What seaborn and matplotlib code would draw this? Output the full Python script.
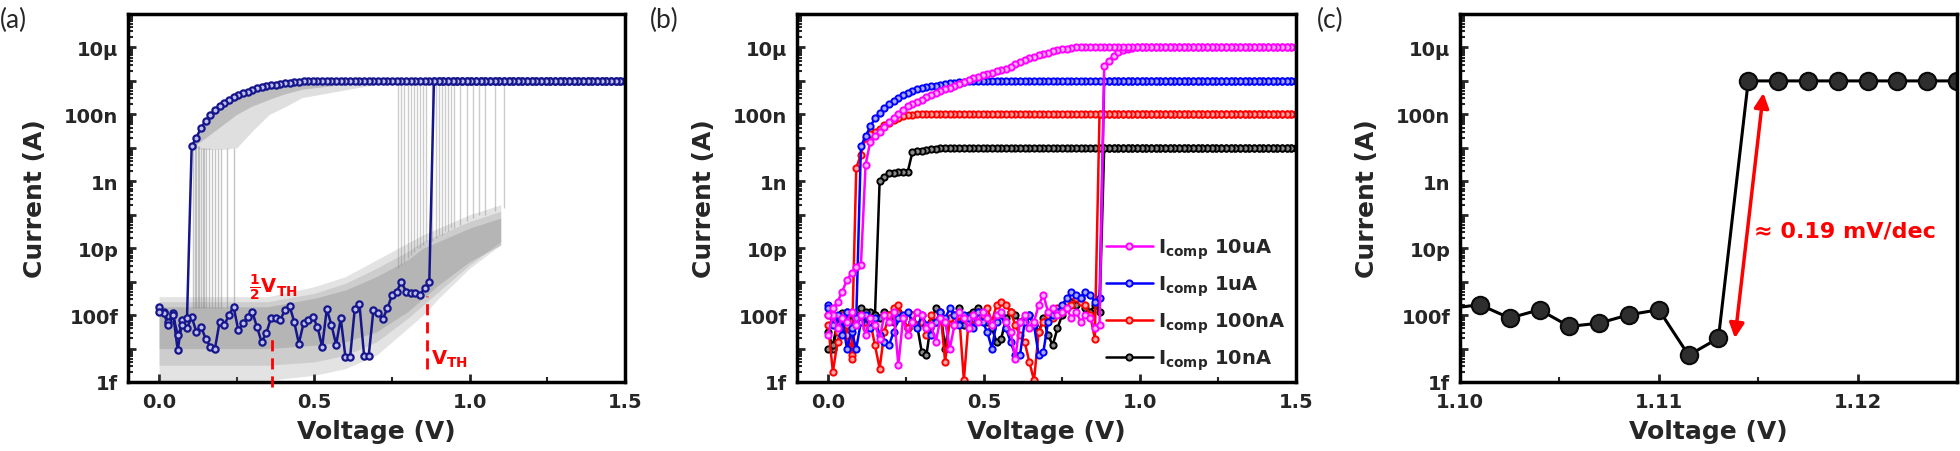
import numpy as np
import pandas as pd
import matplotlib
matplotlib.use('Agg')
import matplotlib.pyplot as plt
import seaborn as sns
from matplotlib.ticker import FixedLocator, FuncFormatter, LogLocator, MultipleLocator, FormatStrFormatter, NullFormatter

sns.set_style('ticks')
plt.rcParams['font.family'] = ['DejaVu Sans']
plt.rcParams['font.weight'] = 'bold'
plt.rcParams['axes.labelweight'] = 'bold'
plt.rcParams['mathtext.fontset'] = 'custom'
plt.rcParams['mathtext.rm'] = 'DejaVu Sans:bold'
plt.rcParams['mathtext.it'] = 'DejaVu Sans:bold'
plt.rcParams['mathtext.bf'] = 'DejaVu Sans:bold'
plt.rcParams['mathtext.default'] = 'rm'

# ---- data (currents kept as log10 values) ----
v_step = 0.015
v_grid = np.round(np.arange(0, 1.5 + v_step / 2, v_step), 3)   # sweep 0 -> 1.5 V

y_ticks = [1e-15, 1e-13, 1e-11, 1e-9, 1e-7, 1e-5]
y_labels = ['1f', '100f', '10p', '1n', '100n', '10μ']

# (a) highlighted cycle
a_on = -6.0
a_fwd_off = [-12.77, -12.92, -13.20, -12.95, -14.05, -13.15, -13.40, -13.05, -13.50, -13.35,
             -13.70, -13.95, -14.00, -13.20, -13.30, -13.00, -12.75, -13.45, -13.25, -13.05,
             -12.90, -13.35, -13.80, -13.55, -13.10, -13.10, -13.15, -12.85, -12.72, -13.20,
             -13.85, -13.25, -13.15, -13.05, -13.35, -13.95, -12.82, -13.30, -13.88, -13.10,
             -14.26, -14.26, -12.82, -12.67, -14.21, -14.21, -12.86, -12.95, -13.12, -12.80,
             -12.40, -12.30, -12.00, -12.30, -12.35, -12.35, -12.39, -12.20, -12.00]
a_bwd_curve = [-6.00, -6.01, -6.01, -6.02, -6.03, -6.05, -6.07, -6.09, -6.11, -6.13,
               -6.15, -6.19, -6.22, -6.26, -6.32, -6.37, -6.43, -6.49, -6.57, -6.65,
               -6.75, -6.87, -7.02, -7.20, -7.40, -7.70, -7.95,
               -13.10, -13.30, -13.60, -13.00, -13.30, -12.95, -12.90]

# (a) grey cloud of the other cycles: off-state band (outer -> inner layers)
band_v = [0.0, 0.2, 0.35, 0.5, 0.6, 0.7, 0.8, 0.85, 0.9, 1.0, 1.1]
band_lo = [-14.95, -14.95, -14.95, -14.8, -14.6, -14.2, -13.4, -13.0, -12.5, -11.6, -10.9]
band_hi = [-12.45, -12.45, -12.45, -12.15, -11.85, -11.35, -10.85, -10.6, -10.4, -10.0, -9.7]
mid_lo = [-14.5, -14.5, -14.5, -14.4, -14.2, -13.8, -13.1, -12.7, -12.3, -11.5, -10.8]
mid_hi = [-12.6, -12.6, -12.6, -12.35, -12.05, -11.6, -11.1, -10.8, -10.6, -10.2, -9.9]
core_lo = [-14.0, -14.0, -14.0, -13.9, -13.8, -13.5, -12.9, -12.5, -12.1, -11.4, -10.9]
core_hi = [-12.75, -12.75, -12.75, -12.5, -12.25, -11.85, -11.35, -11.0, -10.8, -10.4, -10.1]
# return branch band
ret_v = [0.105, 0.15, 0.2, 0.25, 0.3, 0.355, 0.4, 0.46, 0.55, 0.64, 0.75]
ret_lo = [-8.0, -8.05, -8.05, -8.0, -7.5, -7.0, -6.8, -6.5, -6.35, -6.2, -6.02]
ret_mid = [-8.0, -7.7, -7.35, -7.0, -6.75, -6.55, -6.4, -6.25, -6.15, -6.08, -6.01]
ret_hi = [-7.95, -7.2, -6.72, -6.45, -6.26, -6.13, -6.07, -6.02, -6.0, -6.0, -6.0]
# vertical set / reset jumps of the grey cycles
set_v = [0.77, 0.78, 0.79, 0.80, 0.81, 0.82, 0.83, 0.84, 0.85, 0.86, 0.88, 0.89, 0.90,
         0.91, 0.92, 0.93, 0.94, 0.95, 0.97, 0.99, 1.01, 1.03, 1.05, 1.08, 1.11]
set_lo = [-11.6, -11.5, -11.4, -11.3, -11.2, -11.1, -11.0, -11.0, -10.9, -10.8, -10.8, -10.7, -10.6,
          -10.6, -10.5, -10.5, -10.4, -10.4, -10.3, -10.2, -10.1, -10.0, -10.0, -9.9, -9.8]
reset_v = [0.11, 0.115, 0.12, 0.125, 0.13, 0.135, 0.14, 0.145, 0.15, 0.16, 0.17, 0.18, 0.19, 0.20, 0.22, 0.24]
reset_top = [-7.9, -7.9, -7.9, -7.95, -7.95, -8.0, -8.0, -8.0, -8.0, -8.0, -8.05, -8.05, -8.05, -8.05, -8.0, -8.0]
half_vth = [0.363, -13.7]
vth = [0.862, -12.43, -14.6]

# (b) compliance series
b_names = ['I$_{comp}$ 10uA', 'I$_{comp}$ 1uA', 'I$_{comp}$ 100nA', 'I$_{comp}$ 10nA']
b_colors = ['#ff00ff', '#0000ff', '#ff0000', '#000000']
b_faces = ['#ffb4ff', '#a8a8ff', '#ffa8a8', '#8c8c8c']
b_on = [-5.0, -6.0, -7.0, -8.0]
b_fwd = [
    [-13.6, -13.0, -13.4, -13.1, -13.2, -12.9, -13.3, -13.0, -13.6, -13.1, -13.3, -13.7, -13.0, -13.2,
     -12.9, -14.5, -13.1, -13.6, -13.2, -12.9, -13.0, -13.4, -13.3, -13.8, -13.1, -13.2, -14.0, -13.3,
     -12.9, -13.1, -13.4, -13.0, -13.2, -12.9, -13.1, -13.3, -13.0, -12.9, -13.2, -13.5, -14.3, -13.2,
     -13.0, -13.4, -13.2, -12.7, -12.4, -12.9, -12.8, -13.0, -12.9, -12.8, -13.1, -12.9, -13.2, -13.0,
     -13.1, -13.4, -13.3, -5.55, -5.40, -5.25, -5.15, -5.08, -5.04, -5.02],
    [-12.7, -13.0, -13.3, -13.1, -14.0, -13.5, -14.0, -13.2, -13.0, -13.4, -13.1, -13.6, -13.8, -13.9,
     -13.5, -13.1, -13.0, -12.9, -13.2, -13.4, -13.0, -13.3, -13.6, -13.2, -12.9, -13.1, -12.8, -13.0,
     -13.3, -13.0, -13.1, -13.4, -12.9, -13.2, -13.5, -14.0, -13.2, -13.0, -13.4, -13.8, -14.2, -14.2,
     -13.2, -13.0, -13.3, -14.2, -14.1, -13.2, -13.0, -12.9, -12.7, -12.5, -12.3, -12.4, -12.5, -12.3,
     -12.4, -12.6, -12.5],
    [-13.3, -14.7, -13.8, -13.2, -13.6, -14.2, -13.1, -13.0, -13.4, -13.2, -13.9, -14.6, -13.5, -13.0,
     -12.8, -12.7, -13.1, -13.4, -13.0, -13.3, -13.2, -13.6, -13.0, -13.2, -12.9, -14.4, -13.1, -13.3,
     -13.0, -14.95, -13.2, -13.1, -12.9, -13.0, -12.8, -13.2, -12.7, -12.6, -12.7, -12.9, -13.3, -13.6,
     -13.8, -14.4, -14.95, -13.5, -13.2, -13.0, -13.1, -12.8, -12.9, -12.6, -12.7, -12.5, -12.6, -12.7,
     -13.0, -13.7],
    [-13.5, -14.0, -13.3, -13.1, -12.9, -13.0, -13.2, -12.8, -13.1, -12.9, -13.0, -13.1, -12.9, -13.0,
     -13.2, -12.9, -13.1, -13.4, -13.0, -13.3, -14.1, -14.2, -13.2, -12.8, -12.9, -14.0, -13.1, -13.0,
     -12.8, -13.3, -13.0, -12.9, -12.8, -13.1, -13.2, -13.4, -13.8, -13.7, -13.1, -12.9, -13.0, -13.2,
     -13.1, -13.0, -13.3, -13.5, -13.1, -13.6, -13.9, -13.4, -13.0, -12.8, -12.6, -12.7, -12.5, -12.8,
     -12.9, -12.7, -12.9],
]
b_bwd = [
    [-5.02, -5.04, -5.06, -5.09, -5.12, -5.16, -5.20, -5.24, -5.28, -5.32, -5.37, -5.43, -5.50, -5.57,
     -5.63, -5.67, -5.71, -5.75, -5.79, -5.83, -5.87, -5.92, -5.96, -6.02, -6.09, -6.15, -6.20, -6.25,
     -6.30, -6.36, -6.42, -6.49, -6.56, -6.62, -6.68, -6.75, -6.86, -6.98, -7.11, -7.24, -7.38, -7.53,
     -7.65, -7.82, -8.50, -11.50, -11.55, -11.75, -11.95, -12.30, -12.60, -12.80, -13.00],
    [-6.01, -6.02, -6.03, -6.05, -6.07, -6.10, -6.12, -6.14, -6.16, -6.18, -6.21, -6.25, -6.30, -6.36,
     -6.43, -6.51, -6.60, -6.70, -6.81, -6.95, -7.12, -7.36, -7.66, -7.95,
     -13.1, -13.4, -12.9, -13.6, -13.0, -13.3, -12.8],
    [-7.02, -7.03, -7.06, -7.12, -7.18, -7.25, -7.33, -7.43, -7.52, -7.60, -7.70, -8.20, -8.60,
     -14.3, -13.3, -13.0, -13.5, -13.2, -13.0],
    [-8.03, -8.05, -8.07, -8.09, -8.11, -8.13, -8.72, -8.73, -8.73, -8.74, -8.76, -8.88, -8.98,
     -13.0, -13.2, -12.9, -13.1, -13.0, -12.9, -13.1, -12.95, -13.2, -13.9, -14.0],
]

# (c) zoom on the switching
c_v = [1.0995, 1.101, 1.1025, 1.104, 1.1055, 1.107, 1.1085, 1.110, 1.1115, 1.113,
       1.1145, 1.116, 1.1175, 1.119, 1.1205, 1.122, 1.1235, 1.125]
c_logi = [-12.80, -12.69, -13.09, -12.84, -13.34, -13.24, -12.99, -12.84, -14.20, -13.69,
          -6.0, -6.0, -6.0, -6.0, -6.0, -6.0, -6.0, -6.0]
arrow_v = [1.11526, 1.11383]
arrow_logi = [-6.36, -13.69]


def sweep(fwd, bwd, on):
    # forward sweep 0 -> 1.5 V then back; the flat part sits at the compliance level
    f = list(fwd) + [on] * (len(v_grid) - len(fwd))
    b = [on] * (len(v_grid) - len(bwd)) + list(bwd)
    return pd.DataFrame({'V': np.concatenate([v_grid, v_grid[::-1]]),
                         'I': 10.0 ** np.array(f + b)})


lab_map = dict(zip([int(round(np.log10(t))) for t in y_ticks], y_labels))


def style_axis(ax, xlim, xmaj, xmin, xfmt):
    ax.set_yscale('log')
    ax.set_ylim(1e-15, 1e-4)
    ax.set_xlim(*xlim)
    ax.yaxis.set_major_locator(FixedLocator(10.0 ** np.arange(-15, -4)))
    ax.yaxis.set_major_formatter(FuncFormatter(lambda v, p: lab_map.get(int(round(np.log10(v))), '')))
    ax.yaxis.set_minor_locator(LogLocator(base=10, subs=np.arange(2, 10), numticks=100))
    ax.yaxis.set_minor_formatter(NullFormatter())
    ax.xaxis.set_major_locator(MultipleLocator(xmaj))
    ax.xaxis.set_minor_locator(MultipleLocator(xmin))
    ax.xaxis.set_major_formatter(FormatStrFormatter(xfmt))
    ax.tick_params(which='major', direction='in', length=6, width=2, labelsize=14, pad=7)
    ax.tick_params(which='minor', direction='in', length=3.5, width=1.5)
    for s in ax.spines.values():
        s.set_linewidth(2.5)
        s.set_color('black')


fig = plt.figure(figsize=(19.6, 4.52), dpi=100)
bot, hgt = 1 - 383 / 452, 368 / 452
ax1 = fig.add_axes([128 / 1960, bot, 497 / 1960, hgt])
ax2 = fig.add_axes([797 / 1960, bot, 499 / 1960, hgt])
ax3 = fig.add_axes([1460 / 1960, bot, 497 / 1960, hgt])
for ax in (ax1, ax2):
    style_axis(ax, (-0.1, 1.5), 0.5, 0.25, '%.1f')
style_axis(ax3, (1.10, 1.125), 0.01, 0.005, '%.2f')

# ---- (a) ----
grey = '#808080'
for lo, hi, al in [(band_lo, band_hi, 0.22), (mid_lo, mid_hi, 0.22), (core_lo, core_hi, 0.3)]:
    ax1.fill_between(band_v, 10.0 ** np.array(lo), 10.0 ** np.array(hi), color=grey, alpha=al, lw=0)
ax1.fill_between(ret_v, 10.0 ** np.array(ret_lo), 10.0 ** np.array(ret_hi), color=grey, alpha=0.25, lw=0)
ax1.fill_between(ret_v, 10.0 ** np.array(ret_mid), 10.0 ** np.array(ret_hi), color=grey, alpha=0.35, lw=0)
ax1.vlines(set_v, 10.0 ** np.array(set_lo), 1e-6, color=grey, alpha=0.4, lw=1.0)
ax1.vlines(reset_v, 10.0 ** -12.8, 10.0 ** np.array(reset_top), color=grey, alpha=0.45, lw=1.0)

navy = '#16168c'
sns.lineplot(data=sweep(a_fwd_off, a_bwd_curve, a_on), x='V', y='I', sort=False, estimator=None,
             color=navy, lw=1.8, marker='o', markersize=4.5, markeredgecolor=navy,
             markerfacecolor='#c0c0f0', markeredgewidth=1.6, ax=ax1)
ax1.plot([half_vth[0]] * 2, [7e-16, 10 ** half_vth[1]], color='red', ls=(0, (4, 2.5)), lw=2, clip_on=False, zorder=5)
ax1.plot([vth[0]] * 2, [10 ** vth[2], 10 ** vth[1]], color='red', ls=(0, (4, 2.5)), lw=2, zorder=5)
ax1.text(0.29, 10 ** -12.16, r'$\frac{1}{2}$V$_{TH}$', color='red', fontsize=14, ha='left', va='center')
ax1.text(0.875, 10 ** -14.28, r'V$_{TH}$', color='red', fontsize=14, ha='left', va='center')

# ---- (b) ----
handles = {}
for k in [3, 2, 1, 0]:
    sns.lineplot(data=sweep(b_fwd[k], b_bwd[k], b_on[k]), x='V', y='I', sort=False, estimator=None,
                 color=b_colors[k], lw=1.8, marker='o', markersize=4.5, markeredgecolor=b_colors[k],
                 markerfacecolor=b_faces[k], markeredgewidth=1.4, ax=ax2)
    handles[k] = ax2.get_lines()[-1]
ax2.legend([handles[k] for k in range(4)], b_names, loc='lower right', frameon=False,
           fontsize=14, handlelength=2.4, labelspacing=0.65, borderaxespad=0.1, handletextpad=0.3)

# ---- (c) ----
dfc = pd.DataFrame({'V': c_v, 'I': 10.0 ** np.array(c_logi)})
sns.lineplot(data=dfc, x='V', y='I', sort=False, estimator=None, color='black', lw=2.2,
             marker='o', markersize=12.5, markeredgecolor='#0a0a0a', markerfacecolor='#2e2e2e',
             markeredgewidth=1.5, ax=ax3)
ax3.annotate('', xy=(arrow_v[0], 10 ** arrow_logi[0]), xytext=(arrow_v[1], 10 ** arrow_logi[1]),
             arrowprops=dict(arrowstyle='<|-|>', color='red', lw=2.5, mutation_scale=22, shrinkA=0, shrinkB=0))
ax3.text(1.1148, 10 ** -10.48, '≈ 0.19 mV/dec', color='red', fontsize=16, ha='left', va='center')

for ax in (ax1, ax2, ax3):
    ax.set_xlabel('Voltage (V)', fontsize=18, labelpad=6)
    ax.set_ylabel('Current (A)', fontsize=18, labelpad=12)

for x0, t in [(0, '(a)'), (650, '(b)'), (1317, '(c)')]:
    fig.text(x0 / 1960, 1 - 20 / 452, t, fontsize=19, family='Lato', fontweight='normal', va='center', ha='left')

fig.savefig('out.png', dpi=100)
